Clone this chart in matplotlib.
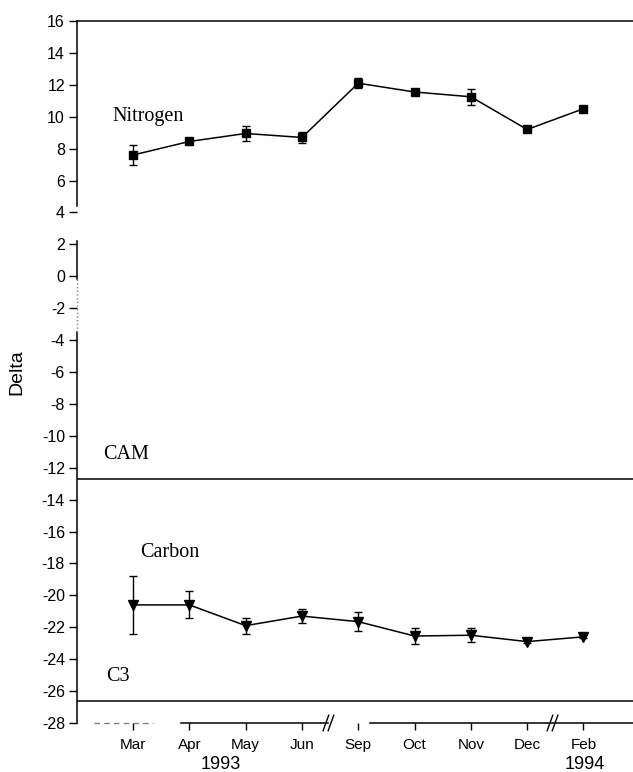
import matplotlib.pyplot as plt
import matplotlib.transforms as mtransforms
import numpy as np

plt.rcParams["axes.unicode_minus"] = False

months = ["Mar", "Apr", "May", "Jun", "Sep", "Oct", "Nov", "Dec", "Feb"]
nitrogen = [7.6, 8.45, 8.95, 8.7, 12.1, 11.55, 11.25, 9.2, 10.5]
nitrogen_err = [0.62, 0.1, 0.45, 0.35, 0.3, 0.2, 0.5, 0.1, 0.1]
carbon = [-20.6, -20.6, -21.9, -21.3, -21.65, -22.55, -22.5, -22.9, -22.6]
carbon_err = [1.8, 0.85, 0.5, 0.45, 0.6, 0.5, 0.45, 0.1, 0.1]
cam_line = -12.7
c3_line = -26.65
year_labels = ["1993", "1994"]

serif = "Liberation Serif"
sans = "Liberation Sans"

fig = plt.figure(figsize=(6.33, 7.72), dpi=100)
ax = fig.add_axes([0.1213, 0.0635, 0.8787, 0.9093])

x = np.arange(1, len(months) + 1)

ax.errorbar(x, nitrogen, yerr=nitrogen_err, color="black", marker="s",
            markersize=5.5, linewidth=1.1, elinewidth=1.0, capsize=3,
            capthick=1.0)
ax.errorbar(x, carbon, yerr=carbon_err, color="black", marker="v",
            markersize=6.5, linewidth=1.1, elinewidth=1.0, capsize=3,
            capthick=1.0)

ax.axhline(cam_line, color="black", linewidth=1.1)
ax.axhline(c3_line, color="black", linewidth=1.1)

ax.set_xlim(0, 9.88)
ax.set_ylim(-28, 16)
ax.set_yticks(np.arange(-28, 17, 2))
ax.set_xticks(x)
ax.set_xticklabels(months)

for lab in ax.get_yticklabels() + ax.get_xticklabels():
    lab.set_fontfamily(sans)
ax.tick_params(axis="y", direction="out", length=5.5, width=1.0,
               labelsize=11.5, color="black", pad=3)
ax.tick_params(axis="x", direction="out", length=5, width=1.0,
               labelsize=11, color="black", pad=6)

ax.set_ylabel("Delta", fontsize=14, fontfamily=sans)
ax.yaxis.set_label_coords(-0.093, 0.5)

# spines: top kept, left/bottom drawn by hand with breaks
ax.spines["right"].set_visible(False)
ax.spines["left"].set_visible(False)
ax.spines["bottom"].set_visible(False)
ax.spines["top"].set_linewidth(1.1)

ytrans = mtransforms.blended_transform_factory(ax.transAxes, ax.transData)
for y0, y1 in [(4.4, 16), (-0.2, 2.2), (-28, -3.5)]:
    ax.plot([0, 0], [y0, y1], color="black", linewidth=1.1,
            transform=ytrans, clip_on=False)
ax.plot([0, 0], [-3.5, -0.2], color="gray", linewidth=1.0, linestyle=":",
        transform=ytrans, clip_on=False)

xtrans = mtransforms.blended_transform_factory(ax.transData, ax.transAxes)
for x0, x1 in [(1.85, 4.47), (5.2, 9.88)]:
    ax.plot([x0, x1], [0, 0], color="black", linewidth=1.1,
            transform=xtrans, clip_on=False)
ax.plot([0.3, 1.35], [0, 0], color="gray", linewidth=1.0,
        linestyle=(0, (4, 3)), transform=xtrans, clip_on=False)

# break marks on x axis
for bx in [4.47, 8.45]:
    for off in [-0.045, 0.045]:
        ax.plot([bx + off - 0.05, bx + off + 0.05], [-0.011, 0.011],
                color="black", linewidth=1.0, transform=xtrans,
                clip_on=False)

ax.text(2.55, -0.047, year_labels[0], transform=xtrans, ha="center",
        va="top", fontsize=13, fontfamily=sans)
ax.text(9.02, -0.047, year_labels[1], transform=xtrans, ha="center",
        va="top", fontsize=13, fontfamily=sans)

ax.text(0.64, 10.0, "Nitrogen", fontsize=14.5, fontfamily=serif, va="center")
ax.text(1.13, -17.3, "Carbon", fontsize=14.5, fontfamily=serif, va="center")
ax.text(0.47, -11.2, "CAM", fontsize=14.5, fontfamily=serif, va="center")
ax.text(0.52, -25.1, "C3", fontsize=14.5, fontfamily=serif, va="center")

fig.savefig("out.png", dpi=100)
